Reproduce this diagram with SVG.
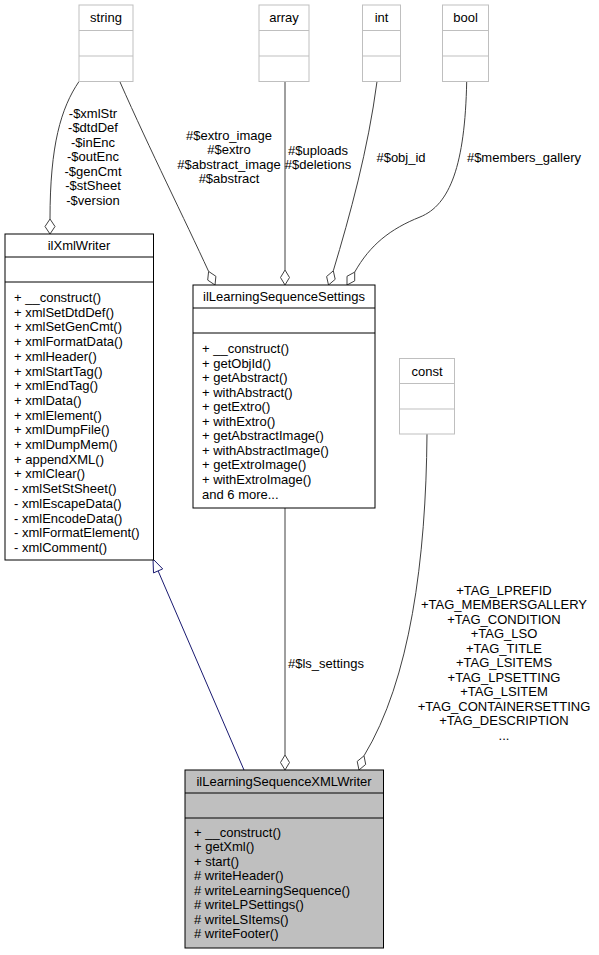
<svg xmlns="http://www.w3.org/2000/svg" width="599" height="955" viewBox="0 0 599 955">
<style>
text{font-family:"Liberation Sans",Arial,sans-serif;font-size:13px;fill:#000}
.c{text-anchor:middle}
.box{fill:#fff;stroke:#000;stroke-width:1}
.gbox{fill:#fff;stroke:#bfbfbf;stroke-width:1}
.cur{fill:#bfbfbf;stroke:#000;stroke-width:1}
.sep{stroke:#000;stroke-width:1}
.gsep{stroke:#bfbfbf;stroke-width:1}
.e{fill:none;stroke:#404040;stroke-width:1}
.d{fill:#fff;stroke:#404040;stroke-width:1}
.inh{fill:none;stroke:#191970;stroke-width:1}
.tri{fill:#fff;stroke:#191970;stroke-width:1}
</style>
<rect width="599" height="955" fill="#fff"/>
<g id="connectors">
<path class="e" d="M79,81.5 C61,108 50,145 50,219"/>
<polygon class="d" points="50,234 45,226.5 50,219 55,226.5"/>
<path class="e" d="M120,82 C150,150 185,220 208.6,271.4"/>
<polygon class="d" points="215,285 207.7,280.1 208.6,271.4 215.9,276.3"/>
<path class="e" d="M285,81.5 L285,270"/>
<polygon class="d" points="285,285 280.5,277.5 285,270 289.5,277.5"/>
<path class="e" d="M377,81.5 C368,150 350,215 333.3,270.8"/>
<polygon class="d" points="328.5,285 326.6,276.5 333.3,270.8 335.2,279.3"/>
<path class="e" d="M466.7,81.5 C465,165 450,205 420,217 C390,229 370,245 354.7,272.1"/>
<polygon class="d" points="347,285 347,276.3 354.7,272.1 354.7,280.9"/>
<path class="e" d="M285,508 L285,755"/>
<polygon class="d" points="285,770 280.5,762.5 285,755 289.5,762.5"/>
<path class="e" d="M427,434 C426,560 410,680 364,755.8"/>
<polygon class="d" points="359,770 357.2,761.4 364,755.8 365.7,764.4"/>
<path class="inh" d="M244,770 L158.1,570.9"/>
<polygon class="tri" points="153,559 162.7,568.9 153.5,572.9"/>
<g id="labels">
<text class="c" x="93" y="117.5">-$xmlStr</text>
<text class="c" x="93" y="132">-$dtdDef</text>
<text class="c" x="93" y="146.5">-$inEnc</text>
<text class="c" x="93" y="161">-$outEnc</text>
<text class="c" x="93" y="175.5">-$genCmt</text>
<text class="c" x="93" y="190">-$stSheet</text>
<text class="c" x="93" y="204.5">-$version</text>
<text class="c" x="229" y="139.5">#$extro_image</text>
<text class="c" x="229" y="154">#$extro</text>
<text class="c" x="229" y="168.5">#$abstract_image</text>
<text class="c" x="229" y="183">#$abstract</text>
<text class="c" x="318" y="154.5">#$uploads</text>
<text class="c" x="318" y="169">#$deletions</text>
<text class="c" x="401" y="161.5">#$obj_id</text>
<text class="c" x="524" y="161.5">#$members_gallery</text>
<text x="288" y="667.5">#$ls_settings</text>
<text class="c" x="504" y="594.5">+TAG_LPREFID</text>
<text class="c" x="504" y="609">+TAG_MEMBERSGALLERY</text>
<text class="c" x="504" y="623.5">+TAG_CONDITION</text>
<text class="c" x="504" y="638">+TAG_LSO</text>
<text class="c" x="504" y="652.5">+TAG_TITLE</text>
<text class="c" x="504" y="667">+TAG_LSITEMS</text>
<text class="c" x="504" y="681.5">+TAG_LPSETTING</text>
<text class="c" x="504" y="696">+TAG_LSITEM</text>
<text class="c" x="504" y="710.5">+TAG_CONTAINERSETTING</text>
<text class="c" x="504" y="725">+TAG_DESCRIPTION</text>
<text class="c" x="504" y="739.5">...</text>
</g>
</g>
<g id="string">
<rect class="gbox" x="79" y="5" width="54" height="76.5"/>
<line class="gsep" x1="79" y1="30.5" x2="133" y2="30.5"/>
<line class="gsep" x1="79" y1="56" x2="133" y2="56"/>
<text class="c" x="106" y="22">string</text>
</g>
<g id="array">
<rect class="gbox" x="259" y="5" width="50" height="76.5"/>
<line class="gsep" x1="259" y1="30.5" x2="309" y2="30.5"/>
<line class="gsep" x1="259" y1="56" x2="309" y2="56"/>
<text class="c" x="284" y="22">array</text>
</g>
<g id="int">
<rect class="gbox" x="362.5" y="5" width="38" height="76.5"/>
<line class="gsep" x1="362.5" y1="30.5" x2="400.5" y2="30.5"/>
<line class="gsep" x1="362.5" y1="56" x2="400.5" y2="56"/>
<text class="c" x="381.5" y="22">int</text>
</g>
<g id="bool">
<rect class="gbox" x="442.5" y="5" width="46" height="76.5"/>
<line class="gsep" x1="442.5" y1="30.5" x2="488.5" y2="30.5"/>
<line class="gsep" x1="442.5" y1="56" x2="488.5" y2="56"/>
<text class="c" x="465.5" y="22">bool</text>
</g>
<g id="const">
<rect class="gbox" x="399.5" y="358.5" width="55" height="75.5"/>
<line class="gsep" x1="399.5" y1="383.5" x2="454.5" y2="383.5"/>
<line class="gsep" x1="399.5" y1="409" x2="454.5" y2="409"/>
<text class="c" x="427" y="375.5">const</text>
</g>
<g id="ilXmlWriter">
<rect class="box" x="5" y="234" width="148.5" height="326"/>
<line class="sep" x1="5" y1="257" x2="153.5" y2="257"/>
<line class="sep" x1="5" y1="282" x2="153.5" y2="282"/>
<text class="c" x="79" y="250">ilXmlWriter</text>
<text x="14" y="302">+ __construct()</text>
<text x="14" y="316.7">+ xmlSetDtdDef()</text>
<text x="14" y="331.4">+ xmlSetGenCmt()</text>
<text x="14" y="346.1">+ xmlFormatData()</text>
<text x="14" y="360.8">+ xmlHeader()</text>
<text x="14" y="375.5">+ xmlStartTag()</text>
<text x="14" y="390.2">+ xmlEndTag()</text>
<text x="14" y="404.9">+ xmlData()</text>
<text x="14" y="419.6">+ xmlElement()</text>
<text x="14" y="434.3">+ xmlDumpFile()</text>
<text x="14" y="449">+ xmlDumpMem()</text>
<text x="14" y="463.7">+ appendXML()</text>
<text x="14" y="478.4">+ xmlClear()</text>
<text x="14" y="493.1">- xmlSetStSheet()</text>
<text x="14" y="507.8">- xmlEscapeData()</text>
<text x="14" y="522.5">- xmlEncodeData()</text>
<text x="14" y="537.2">- xmlFormatElement()</text>
<text x="14" y="551.9">- xmlComment()</text>
</g>
<g id="ilLearningSequenceSettings">
<rect class="box" x="193" y="285" width="182" height="223"/>
<line class="sep" x1="193" y1="308" x2="375" y2="308"/>
<line class="sep" x1="193" y1="333" x2="375" y2="333"/>
<text class="c" x="284" y="301">ilLearningSequenceSettings</text>
<text x="202" y="353">+ __construct()</text>
<text x="202" y="367.5">+ getObjId()</text>
<text x="202" y="382.1">+ getAbstract()</text>
<text x="202" y="396.6">+ withAbstract()</text>
<text x="202" y="411.2">+ getExtro()</text>
<text x="202" y="425.7">+ withExtro()</text>
<text x="202" y="440.3">+ getAbstractImage()</text>
<text x="202" y="454.8">+ withAbstractImage()</text>
<text x="202" y="469.4">+ getExtroImage()</text>
<text x="202" y="483.9">+ withExtroImage()</text>
<text x="202" y="498.5">and 6 more...</text>
</g>
<g id="ilLearningSequenceXMLWriter">
<rect class="cur" x="185" y="770" width="198.5" height="178"/>
<line class="sep" x1="185" y1="793" x2="383.5" y2="793"/>
<line class="sep" x1="185" y1="818" x2="383.5" y2="818"/>
<text class="c" x="284" y="786">ilLearningSequenceXMLWriter</text>
<text x="194" y="836.5">+ __construct()</text>
<text x="194" y="851">+ getXml()</text>
<text x="194" y="865.5">+ start()</text>
<text x="194" y="880"># writeHeader()</text>
<text x="194" y="894.5"># writeLearningSequence()</text>
<text x="194" y="909"># writeLPSettings()</text>
<text x="194" y="923.5"># writeLSItems()</text>
<text x="194" y="938"># writeFooter()</text>
</g>
</svg>
